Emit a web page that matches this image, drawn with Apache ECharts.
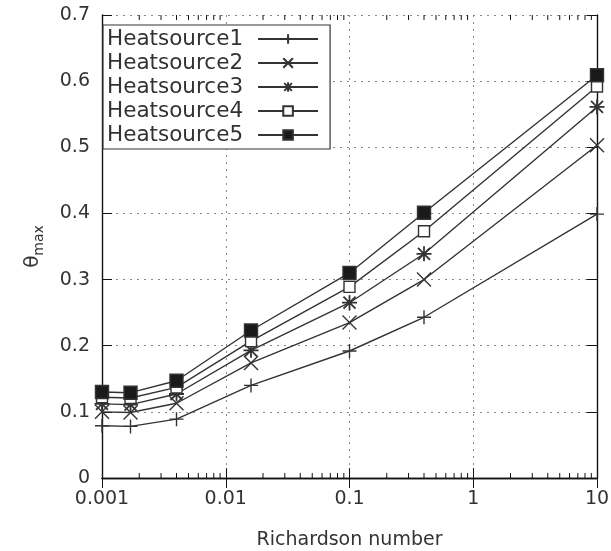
<!DOCTYPE html>
<html>
<head>
<meta charset="utf-8">
<script src="https://cdn.jsdelivr.net/npm/echarts@6/dist/echarts.min.js"></script>
<style>
  html, body { margin: 0; padding: 0; background: #fff; }
  #chart { width: 611px; height: 551px; }
</style>
</head>
<body>
<div id="chart"></div>
<script>
// Richardson numbers (x, log scale)
var richardson = [0.001, 0.0017, 0.004, 0.016, 0.1, 0.4, 10];

// theta_max for each heat source
var heat1 = [0.079, 0.078, 0.089, 0.140, 0.192, 0.243, 0.399];
var heat2 = [0.100, 0.099, 0.113, 0.174, 0.235, 0.300, 0.503];
var heat3 = [0.112, 0.111, 0.127, 0.193, 0.265, 0.339, 0.561];
var heat4 = [0.122, 0.121, 0.137, 0.207, 0.289, 0.373, 0.592];
var heat5 = [0.130, 0.129, 0.147, 0.223, 0.310, 0.401, 0.609];

var seriesNames = ['Heatsource1', 'Heatsource2', 'Heatsource3', 'Heatsource4', 'Heatsource5'];

// log axis minor ticks, 2..9 per decade
var minorTicks = [0.002, 0.003, 0.004, 0.005, 0.006, 0.007, 0.008, 0.009,
                  0.02, 0.03, 0.04, 0.05, 0.06, 0.07, 0.08, 0.09,
                  0.2, 0.3, 0.4, 0.5, 0.6, 0.7, 0.8, 0.9,
                  2, 3, 4, 5, 6, 7, 8, 9];

var ink = '#333';
var font = 'DejaVu Sans';

function pairs(ys) {
    var out = [];
    for (var i = 0; i < richardson.length; i++) {
        out.push([richardson[i], ys[i]]);
    }
    return out;
}

var plusPath = 'path://M0,5L10,5M5,0L5,10';
var crossPath = 'path://M0,0L10,10M10,0L0,10';
var starPath = 'path://M0,5L10,5M5,0L5,10M1,1L9,9M9,1L1,9';

function lineSeries(name, ys, symbol, size, fill, bw) {
    return {
        name: name,
        type: 'line',
        data: pairs(ys),
        symbol: symbol,
        symbolSize: size,
        showAllSymbol: true,
        animation: false,
        lineStyle: { color: ink, width: 1.4 },
        itemStyle: { color: fill, borderColor: ink, borderWidth: bw || 1.4 },
        z: 3
    };
}

var chart = echarts.init(document.getElementById('chart'));

var option = {
    backgroundColor: '#fff',
    animation: false,
    grid: { left: 102, right: 14, top: 15, bottom: 73, outerBoundsMode: 'none', containLabel: false },
    legend: {
        data: seriesNames,
        orient: 'vertical',
        left: 103,
        top: 25,
        padding: [2, 11, 2, 4],
        itemGap: 0,
        itemWidth: 60,
        itemHeight: 12,
        align: 'right',
        borderColor: ink,
        borderWidth: 1.2,
        backgroundColor: '#fff',
        selectedMode: false,
        textStyle: { fontFamily: font, fontSize: 21.5, color: ink, lineHeight: 24, padding: [0, 10, 0, 0] }
    },
    xAxis: [{
        type: 'log',
        logBase: 10,
        min: 0.001,
        max: 10,
        name: 'Richardson number',
        nameLocation: 'middle',
        nameGap: 53,
        nameTextStyle: { fontFamily: font, fontSize: 19, color: ink },
        axisLine: { show: true, lineStyle: { color: '#111', width: 1.4 } },
        axisTick: { show: true, inside: true, length: 10, lineStyle: { color: '#111' } },
        axisLabel: {
            fontFamily: font, fontSize: 19, color: ink, margin: 12,
            formatter: function (v) { return String(parseFloat(v.toPrecision(6))); }
        },
        splitLine: { show: true, lineStyle: { color: '#888', type: [2, 5], width: 1 } }
    }, {
        type: 'log',
        logBase: 10,
        min: 0.001,
        max: 10,
        position: 'top',
        axisLine: { show: true, lineStyle: { color: '#111', width: 1.4 } },
        axisTick: { show: true, inside: true, length: 10, lineStyle: { color: '#111' } },
        axisLabel: { show: false },
        splitLine: { show: false }
    }],
    yAxis: [{
        type: 'value',
        min: 0,
        max: 0.7,
        interval: 0.1,
        name: '{t|θ}{s|max}',
        nameLocation: 'middle',
        nameGap: 56,
        nameRotate: 90,
        nameTextStyle: {
            fontFamily: font, color: ink,
            rich: {
                t: { fontFamily: font, fontSize: 20, color: ink, lineHeight: 26, verticalAlign: 'middle' },
                s: { fontFamily: font, fontSize: 14, color: ink, lineHeight: 26, verticalAlign: 'bottom' }
            }
        },
        axisLine: { show: true, lineStyle: { color: '#111', width: 1.4 } },
        axisTick: { show: true, inside: true, length: 10, lineStyle: { color: '#111' } },
        axisLabel: { fontFamily: font, fontSize: 19, color: ink, margin: 12 },
        splitLine: { show: true, lineStyle: { color: '#888', type: [2, 5], width: 1 } }
    }, {
        type: 'value',
        min: 0,
        max: 0.7,
        interval: 0.1,
        position: 'right',
        axisLine: { show: true, lineStyle: { color: '#111', width: 1.4 } },
        axisTick: { show: true, inside: true, length: 10, lineStyle: { color: '#111' } },
        axisLabel: { show: false },
        splitLine: { show: false }
    }],
    series: [
        lineSeries(seriesNames[0], heat1, plusPath, 14, 'transparent'),
        lineSeries(seriesNames[1], heat2, crossPath, 14, 'transparent'),
        lineSeries(seriesNames[2], heat3, starPath, 15, 'transparent', 1.8),
        lineSeries(seriesNames[3], heat4, 'rect', 11, '#fff'),
        lineSeries(seriesNames[4], heat5, 'rect', 13, '#1a1a1a'),
        {
            type: 'custom',
            name: 'minor',
            silent: true,
            animation: false,
            data: minorTicks.map(function (v) { return [v, 0]; }),
            renderItem: function (params, api) {
                var v = api.value(0);
                var b = api.coord([v, 0]);
                var t = api.coord([v, 0.7]);
                var st = { stroke: '#111', lineWidth: 1 };
                return {
                    type: 'group',
                    children: [
                        { type: 'line', shape: { x1: b[0], y1: b[1], x2: b[0], y2: b[1] - 5 }, style: st },
                        { type: 'line', shape: { x1: t[0], y1: t[1], x2: t[0], y2: t[1] + 5 }, style: st }
                    ]
                };
            },
            z: 2
        }
    ]
};

chart.setOption(option);
</script>
</body>
</html>
